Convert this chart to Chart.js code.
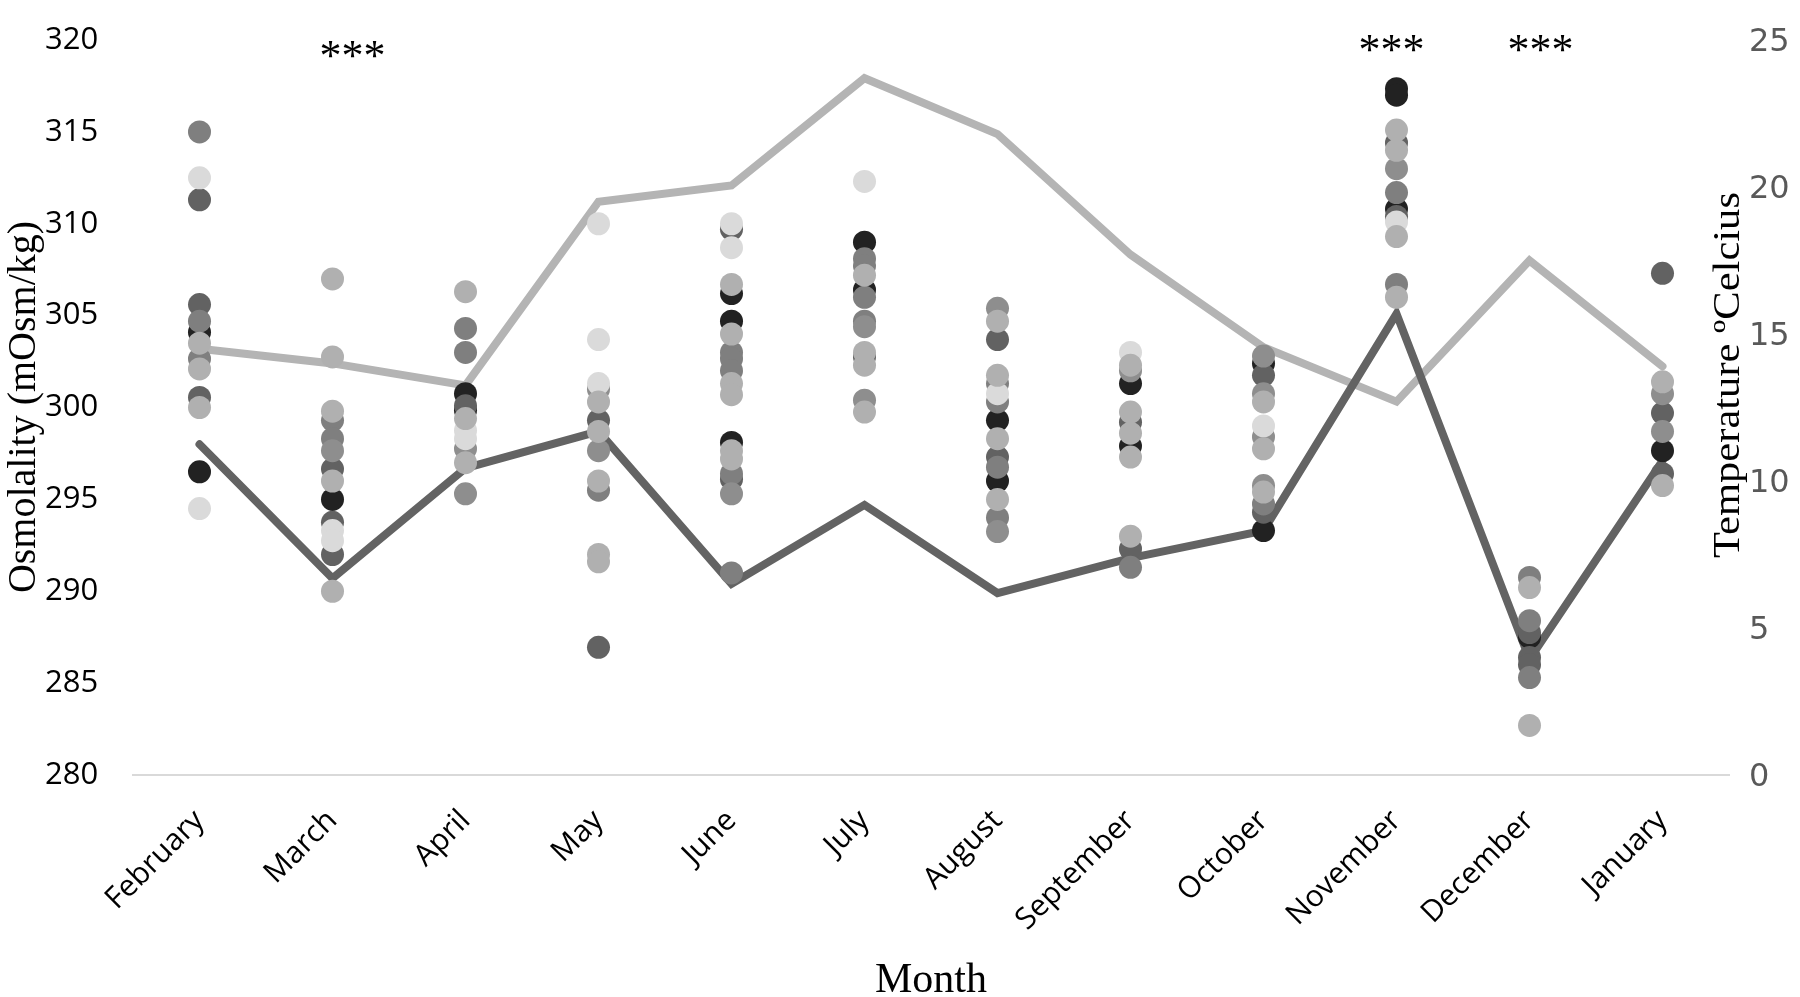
<!DOCTYPE html>
<html>
<head>
<meta charset="utf-8">
<script src="https://cdn.jsdelivr.net/npm/chart.js@4.4.1/dist/chart.umd.min.js"></script>
<style>
html,body{margin:0;padding:0;background:#ffffff;}
#wrap{width:1800px;height:997px;position:relative;}
</style>
</head>
<body>
<div id="wrap"><canvas id="c" width="1800" height="997"></canvas></div>
<script>
// ---------- DATA ----------
const months = ['February','March','April','May','June','July','August','September','October','November','December','January'];
const leftTicks = [280, 285, 290, 295, 300, 305, 310, 315, 320];
const rightTicks = [0, 5, 10, 15, 20, 25];

// monthly mean osmolality (left axis)
const osmolalityMean = [298.0, 290.7, 296.7, 298.7, 290.4, 294.7, 289.9, 291.8, 293.3, 305.1, 286.3, 297.1];
// monthly water temperature (right axis)
const temperature = [14.5, 14.0, 13.25, 19.5, 20.05, 23.7, 21.8, 17.7, 14.55, 12.7, 17.5, 13.9];

// individual osmolality values, grouped by marker shade, one inner list per month
const darkestPts = [[304.1,296.5],[295.0],[300.75,299.85],[],[306.2,304.7,298.1],[309.0,306.4],[299.3,296.0],[301.3,297.9],[302.4,293.3],[317.35,317.0,310.8],[287.5],[297.65]];
const darkPts = [[311.3,305.6,300.55],[296.65,293.75,292.0],[300.1],[299.3,286.95],[309.7,296.1],[302.75],[303.7,297.3],[299.2,292.3],[301.75,294.3],[314.4,310.4],[287.75,286.4,286.0],[307.3,299.7,296.4]];
const midPts = [[315.0,304.7,302.65],[299.3,298.3],[304.3,303.0],[295.5],[303.0,302.65,302.0,296.4,291.0],[308.1,307.7,306.0,304.7],[301.3,300.3,296.75,294.0],[291.3],[294.75],[311.7,306.7],[290.75,288.4,285.3],[]];
const midLightPts = [[],[297.65],[297.75,295.3],[301.0,297.65],[295.3],[304.4,300.4],[305.4,293.25],[302.0],[302.8,300.75,298.4,295.75],[313.0],[],[300.75,298.7]];
const lightPts = [[303.5,302.1,300.0],[307.0,302.75,299.8,296.0,290.0],[306.3,299.4,297.0],[300.3,298.7,296.0,292.0,291.6],[306.7,304.0,301.3,300.7,297.65,297.2],[307.2,303.0,302.3,299.75],[304.7,301.75,298.3,295.0],[302.3,299.75,298.6,297.3,293.0],[300.3,297.75,295.4],[315.1,314.0,309.3,306.0],[290.2,282.7],[301.4,295.75]];
const palestPts = [[312.5,294.5],[293.3,292.75],[298.75,298.3],[310.0,303.7,301.3],[310.0,308.7],[312.3],[300.75],[303.0],[299.0],[310.1],[],[]];

// significance markers
const starMonths = ['March','November','December'];
const starText = '***';

const leftTitle = 'Osmolality (mOsm/kg)';
const rightTitle = 'Temperature \u00BACelcius';
const xTitle = 'Month';

// ---------- BUILD ----------
function toPoints(groups){
  const out = [];
  groups.forEach((vals, i) => vals.forEach(v => out.push({x: months[i], y: v})));
  return out;
}
function dotSet(groups, color, order){
  return {
    type: 'line', showLine: false, data: toPoints(groups), yAxisID: 'y',
    pointRadius: 11.5, pointHoverRadius: 11.5, pointBorderWidth: 0,
    pointBackgroundColor: color, backgroundColor: color, borderColor: color, order: order
  };
}

const starStyle = {dx: [20, -5, 11], y: [70, 64, 64]};

const overlay = {
  id: 'overlay',
  afterDraw(chart){
    const ctx = chart.ctx;
    const xs = chart.scales.x;
    ctx.save();
    ctx.fillStyle = '#000000';
    // left axis title
    ctx.save();
    ctx.translate(35, 407);
    ctx.rotate(-Math.PI/2);
    ctx.font = '40px "Liberation Serif"';
    ctx.textAlign = 'center';
    ctx.textBaseline = 'alphabetic';
    ctx.fillText(leftTitle, 0, 0);
    ctx.restore();
    // right axis title
    ctx.save();
    ctx.translate(1739, 375);
    ctx.rotate(-Math.PI/2);
    ctx.scale(1.12, 1);
    ctx.font = '38px "Liberation Serif"';
    ctx.textAlign = 'center';
    ctx.textBaseline = 'alphabetic';
    ctx.fillText(rightTitle, 0, 0);
    ctx.restore();
    // x axis title
    ctx.font = '42px "Liberation Serif"';
    ctx.textAlign = 'center';
    ctx.textBaseline = 'alphabetic';
    ctx.fillText(xTitle, 931, 992);
    // stars
    ctx.font = '44px "Liberation Serif"';
    starMonths.forEach((m, i) => {
      const px = xs.getPixelForValue(months.indexOf(m)) + starStyle.dx[i];
      ctx.fillText(starText, px, starStyle.y[i]);
    });
    ctx.restore();
  }
};

const datasets = [
  {type:'line', data: osmolalityMean, yAxisID:'y', borderColor:'#636363', borderWidth:8, pointRadius:0, tension:0, fill:false, order:20, borderJoinStyle:'miter', borderCapStyle:'round'},
  {type:'line', data: temperature, yAxisID:'y2', borderColor:'#b4b4b4', borderWidth:8, pointRadius:0, tension:0, fill:false, order:21, borderJoinStyle:'miter', borderCapStyle:'round'},
  dotSet(darkestPts, '#222222', 6),
  dotSet(darkPts, '#626262', 5),
  dotSet(midPts, '#7f7f7f', 4),
  dotSet(midLightPts, '#8e8e8e', 3),
  dotSet(palestPts, '#dadada', 2),
  dotSet(lightPts, '#b0b0b0', 1)
];

new Chart(document.getElementById('c'), {
  type: 'line',
  data: {labels: months, datasets: datasets},
  plugins: [overlay],
  options: {
    responsive: false,
    animation: false,
    devicePixelRatio: 1,
    layout: {padding: {top: 40, left: 45, right: 0, bottom: 0}},
    plugins: {legend: {display: false}, tooltip: {enabled: false}},
    scales: {
      x: {
        type: 'category', labels: months, offset: true,
        grid: {display: false, drawTicks: false},
        border: {display: true, color: '#d9d9d9', width: 2},
        ticks: {font: {family: '"Open Sans"', size: 30}, color: '#000000', minRotation: 45, maxRotation: 45, autoSkip: false, padding: 28},
        afterFit(s){ s.height = 222; }
      },
      y: {
        position: 'left', min: leftTicks[0], max: leftTicks[leftTicks.length-1],
        afterBuildTicks(s){ s.ticks = leftTicks.map(v => ({value: v})); },
        grid: {display: false, drawTicks: false},
        border: {display: false},
        ticks: {font: {family: '"Open Sans"', size: 31}, color: '#000000', padding: 0, crossAlign: 'far'},
        afterFit(s){ s.width = 88; }
      },
      y2: {
        position: 'right', min: rightTicks[0], max: rightTicks[rightTicks.length-1],
        afterBuildTicks(s){ s.ticks = rightTicks.map(v => ({value: v})); },
        grid: {display: false, drawTicks: false},
        border: {display: false},
        ticks: {font: {family: '"DejaVu Sans"', size: 32}, color: '#595959', padding: 20, labelOffset: 3},
        afterFit(s){ s.width = 71; }
      }
    }
  }
});
</script>
</body>
</html>
